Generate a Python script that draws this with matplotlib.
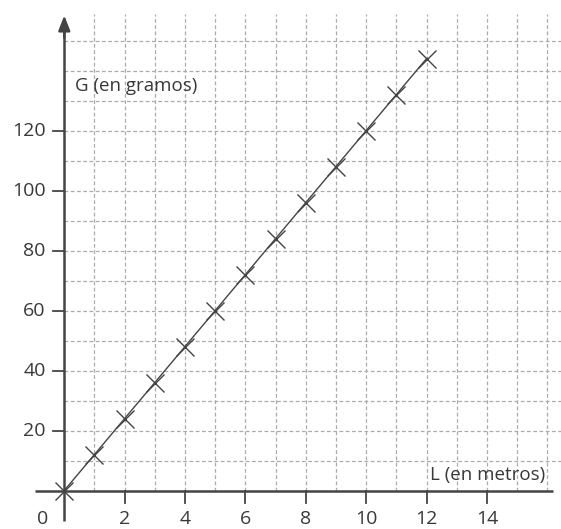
import matplotlib
matplotlib.use("Agg")
import matplotlib.pyplot as plt
import numpy as np

L = [0, 1, 2, 3, 4, 5, 6, 7, 8, 9, 10, 11, 12]
G = [0, 12, 24, 36, 48, 60, 72, 84, 96, 108, 120, 132, 144]
x_ticks = [2, 4, 6, 8, 10, 12, 14]
y_ticks = [20, 40, 60, 80, 100, 120]
x_label = "L (en metros)"
y_label = "G (en gramos)"

plt.rcParams['font.family'] = ['Open Sans', 'DejaVu Sans']
dark = '#444444'
txt = '#383838'
gridc = '#ababab'

fig = plt.figure(figsize=(5.61, 5.29), dpi=100)
ax = fig.add_axes([0, 0, 1, 1])
ax.set_xlim(-2.129, 16.45)
ax.set_ylim(-12.83, 163.5)
ax.axis('off')

# grid
for gx in range(1, 17):
    ax.plot([gx, gx], [0, 159], color=gridc, lw=0.9, ls=(0, (3, 2)), zorder=1)
for gy in range(10, 160, 10):
    ax.plot([0, 16.6], [gy, gy], color=gridc, lw=0.9, ls=(0, (3, 2)), zorder=1)

# axes
ax.plot([-0.96, 16.2], [0, 0], color=dark, lw=1.8, zorder=3, solid_capstyle='butt')
ax.plot([0, 0], [-10, 155], color=dark, lw=1.8, zorder=3, solid_capstyle='butt')
ax.annotate('', xy=(16.47, 0), xytext=(15.9, 0),
            arrowprops=dict(arrowstyle='-|>,head_length=0.9,head_width=0.35', color=dark, lw=1.8), zorder=4)
ax.annotate('', xy=(0, 159.3), xytext=(0, 150),
            arrowprops=dict(arrowstyle='-|>,head_length=0.9,head_width=0.35', color=dark, lw=1.8), zorder=4)

# ticks
for t in x_ticks:
    ax.plot([t, t], [0, -4], color=dark, lw=1.3, zorder=3)
    ax.text(t, -9.6, str(t), ha='center', va='center', fontsize=14, color=txt)
for t in y_ticks:
    ax.plot([0, -0.37], [t, t], color=dark, lw=1.3, zorder=3)
    ax.text(-0.62, t, str(t), ha='right', va='center', fontsize=14, color=txt)
ax.text(-0.72, -9.6, "0", ha='center', va='center', fontsize=14, color=txt)

ax.text(0.35, 135, y_label, ha='left', va='center', fontsize=13.5, color=txt, zorder=5)
ax.text(15.93, 5.2, x_label, ha='right', va='center', fontsize=13.5, color=txt, zorder=5)

# data
ax.plot(L, G, color=dark, lw=1, marker='x', markersize=13, markeredgewidth=1,
        zorder=6)

fig.savefig("out.png", dpi=100)
